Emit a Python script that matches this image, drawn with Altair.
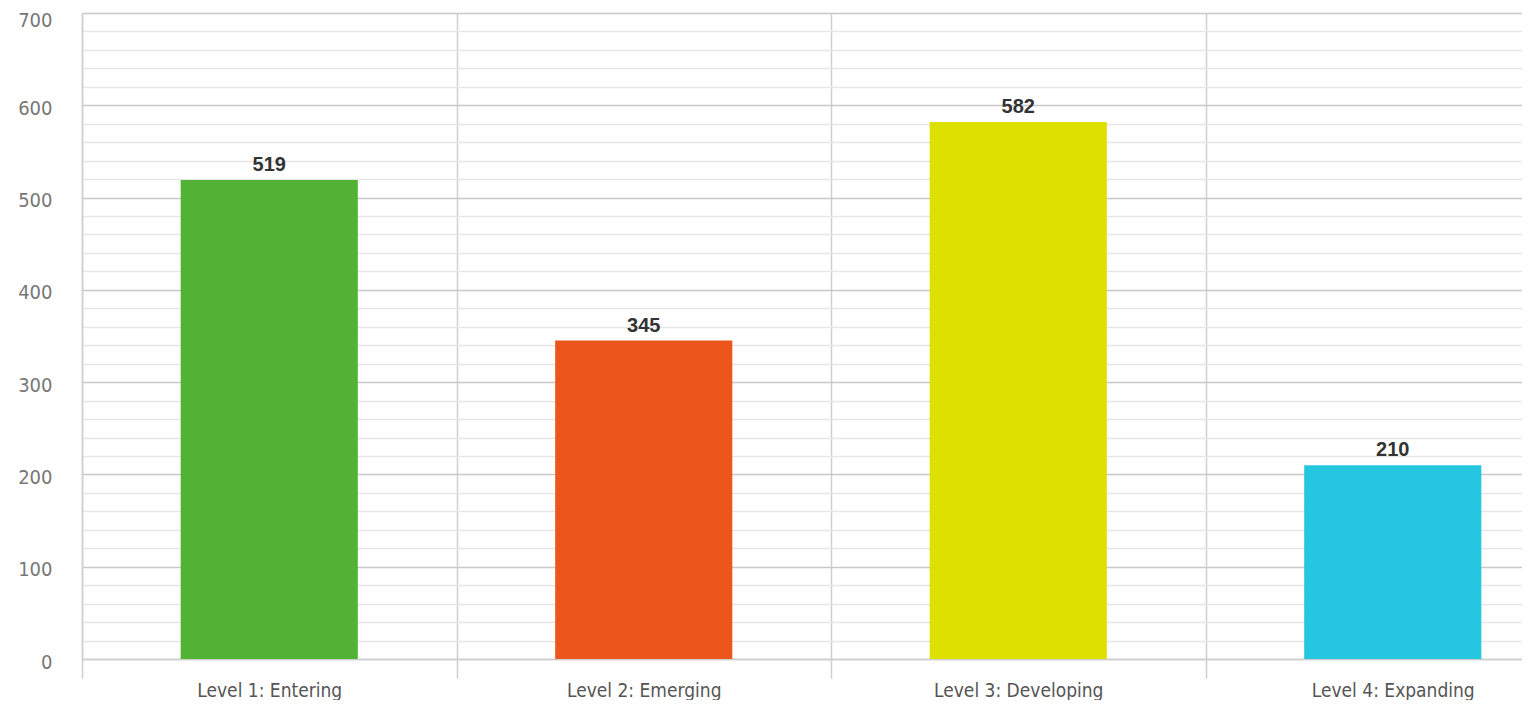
import altair as alt
import pandas as pd

categories = ["Level 1: Entering", "Level 2: Emerging", "Level 3: Developing", "Level 4: Expanding"]
values = [519, 345, 582, 210]
colors = ["#52b234", "#ea561c", "#dde000", "#25c7e0"]
y_ticks = list(range(0, 701, 20))

df = pd.DataFrame({"cat": categories, "val": values})

label_font = "'DejaVu Sans Condensed', 'Liberation Sans Narrow', sans-serif"

x = alt.X("cat:N", sort=categories, title=None,
          scale=alt.Scale(paddingInner=0, paddingOuter=0, range=[0, 1498]),
          axis=alt.Axis(labelAngle=0, grid=True, tickBand="extent", gridColor="#cfcfcf",
                        gridWidth=1.5, tickColor="#cfcfcf", tickWidth=1.5, tickSize=19,
                        labelPadding=3, labelFont=label_font, labelFontSize=19,
                        labelColor="#555555", domainColor="#cfcfcf", domainWidth=1.5))

y = alt.Y("val:Q", title=None,
          scale=alt.Scale(domain=[0, 700], nice=False),
          axis=alt.Axis(values=y_ticks, labelExpr="datum.value % 100 == 0 ? datum.label : ''",
                        labelOverlap=False, ticks=False, labelPadding=30,
                        labelBaseline=alt.condition("datum.value == 700", alt.value("top"), alt.value("middle")),
                        labelOffset=alt.condition("datum.value == 700", alt.value(-3), alt.value(3)),
                        gridColor=alt.condition("datum.value % 100 == 0", alt.value("#c8c8c8"), alt.value("#e6e6e6")),
                        gridWidth=1.5,
                        labelFont=label_font, labelFontSize=20, labelColor="#777777",
                        domainColor="#cfcfcf", domainWidth=1.5))

bars = alt.Chart(df).mark_bar(width=alt.RelativeBandSize(0.473)).encode(
    x=x, y=y,
    color=alt.Color("cat:N", sort=categories, scale=alt.Scale(domain=categories, range=colors), legend=None),
)

text = alt.Chart(df).mark_text(baseline="bottom", dy=-5, fontSize=20, fontWeight="bold",
                               font="Liberation Sans", color="#333333").encode(
    x=x, y=y, text="val:Q")

chart = alt.layer(bars, text).properties(
    width=1440, height=646,
    autosize=alt.AutoSizeParams(type="none"),
    padding={"left": 74, "top": 5, "right": 0, "bottom": 41},
).configure_view(stroke=None)

chart.save("out.html", embed_options={"renderer": "svg", "actions": False})
